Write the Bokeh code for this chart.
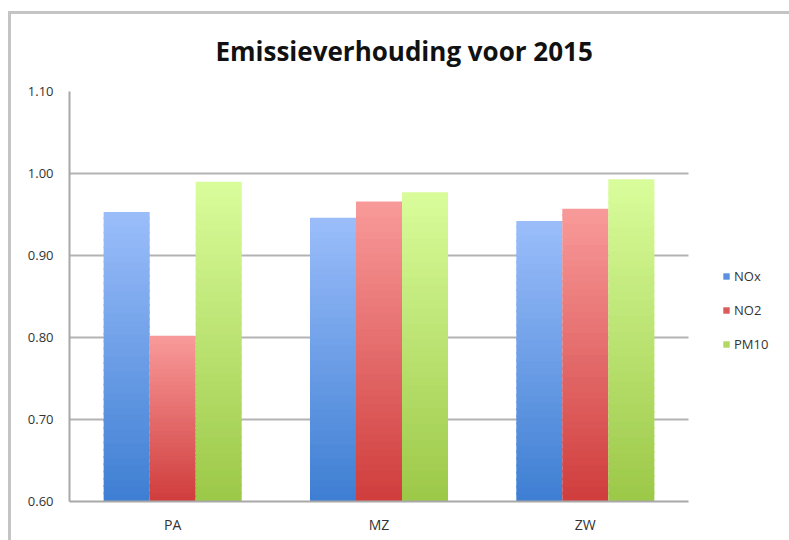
import numpy as np
from bokeh.plotting import figure
from bokeh.models import (ColumnDataSource, Range1d, Legend, LegendItem, BoxAnnotation,
                          NumeralTickFormatter, FixedTicker)
from bokeh.embed import file_html
from bokeh.resources import INLINE

# ---- data ----
categories = ["PA", "MZ", "ZW"]
series_names = ["NOx", "NO2", "PM10"]
nox = [0.953, 0.946, 0.942]
no2 = [0.802, 0.966, 0.957]
pm10 = [0.990, 0.977, 0.993]
y_ticks = [0.60, 0.70, 0.80, 0.90, 1.00, 1.10]
title_text = "Emissieverhouding voor 2015"

# ---- styling ----
top_colors = [(155, 190, 250), (249, 154, 154), (217, 253, 155)]
bottom_colors = [(62, 126, 211), (207, 61, 60), (156, 200, 72)]
offsets = [-0.223, 0.0, 0.223]
bar_w = 0.223
base = 0.60
n_slices = 40

cat_pos = [i + 0.5 for i in range(len(categories))]      # category centres on a numeric axis
n_cat = len(categories)
x_end = n_cat * (789 - 69) / 619.0                         # leave room on the right for the legend

p = figure(width=789, height=540, x_range=Range1d(0, x_end),
           y_range=Range1d(0.60, 1.10), output_backend="svg", toolbar_location=None,
           min_border_left=69, min_border_right=0, min_border_top=91, min_border_bottom=39,
           border_fill_color=None, background_fill_color="white")
p.outline_line_color = None
p.styles = {"background": "linear-gradient(#c4c4c4,#c4c4c4) 8px 11px / 100% 3px no-repeat, "
                          "linear-gradient(#c4c4c4,#c4c4c4) 8px 11px / 3px 100% no-repeat"}


def hexc(c):
    return "#%02x%02x%02x" % tuple(int(round(v)) for v in c)


# grid
p.xgrid.grid_line_color = None
p.ygrid.grid_line_color = "#b3b3b3"
p.ygrid.grid_line_width = 2
p.ygrid.ticker = FixedTicker(ticks=y_ticks)
# blank area right of the plot area (legend zone)
p.add_layout(BoxAnnotation(left=n_cat, fill_color="white", fill_alpha=1.0, line_color=None,
                           level="underlay"))

all_series = [nox, no2, pm10]
legend_items = []
for si, (name, vals) in enumerate(zip(series_names, all_series)):
    xs, tops, bots, cols = [], [], [], []
    for xc, v in zip(cat_pos, vals):
        edges = np.linspace(base, v, n_slices + 1)
        for k in range(n_slices):
            t = (k + 0.5) / n_slices
            c = [bottom_colors[si][j] + (top_colors[si][j] - bottom_colors[si][j]) * t for j in range(3)]
            xs.append(xc + offsets[si])
            bots.append(edges[k])
            tops.append(edges[k + 1] + (0.0025 if k < n_slices - 1 else 0))
            cols.append(hexc(c))
    src = ColumnDataSource(dict(x=xs, top=tops, bottom=bots, color=cols))
    r = p.vbar(x="x", top="top", bottom="bottom", width=bar_w,
               fill_color="color", line_color=None, source=src)
    legend_items.append(LegendItem(label=name, renderers=[r], index=int(n_slices * 0.3)))

# axes
p.yaxis.ticker = FixedTicker(ticks=y_ticks)
p.yaxis.formatter = NumeralTickFormatter(format="0.00")
p.xaxis.ticker = FixedTicker(ticks=cat_pos)
p.xaxis.major_label_overrides = {pos: lab for pos, lab in zip(cat_pos, categories)}
p.xaxis.bounds = (0, n_cat)
for ax in (p.xaxis[0], p.yaxis[0]):
    ax.major_tick_line_color = None
    ax.minor_tick_line_color = None
    ax.major_tick_out = 0
    ax.major_tick_in = 0
    ax.axis_line_color = "#a8a8a8"
    ax.axis_line_width = 2
    ax.major_label_text_font = "Open Sans"
    ax.major_label_text_color = "#333333"
p.yaxis.major_label_text_font_size = "13px"
p.xaxis.major_label_text_font_size = "14px"
p.yaxis.major_label_standoff = 16
p.xaxis.major_label_standoff = 13

# title
p.title.text = title_text
p.title.align = "left"
p.title.offset = 146
p.title.standoff = 46
p.title.text_font = "Open Sans"
p.title.text_font_size = "26px"
p.title.text_font_style = "bold"
p.title.text_color = "#111111"

legend = Legend(items=legend_items, location=(653, 148), glyph_width=8, glyph_height=8,
                label_standoff=4, spacing=16, label_height=16, padding=0, margin=0,
                border_line_color=None, background_fill_alpha=0,
                label_text_font="Open Sans", label_text_font_size="13px", label_text_color="#333333")
p.add_layout(legend)

open("out.html", "w").write(file_html(p, INLINE))
